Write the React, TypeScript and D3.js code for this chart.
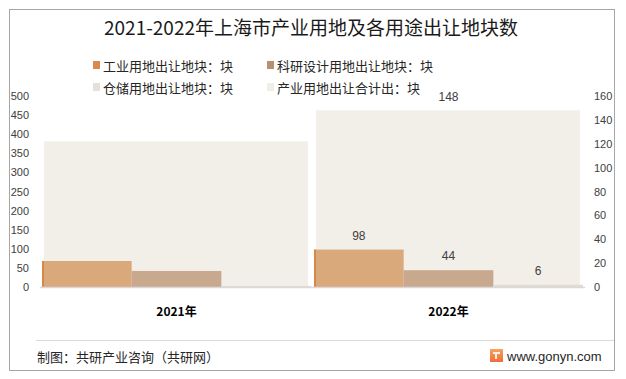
import React from "react";
import * as d3 from "d3";

const years = ["2021年", "2022年"];
const industrial = [68, 98];
const research = [42, 44];
const storage = [3, 6];
const totals = [122, 148];
const showLabels = [false, true];
const leftTicks = [0, 50, 100, 150, 200, 250, 300, 350, 400, 450, 500];
const rightTicks = [0, 20, 40, 60, 80, 100, 120, 140, 160];
const seriesNames = ["工业用地出让地块：块", "科研设计用地出让地块：块", "仓储用地出让地块：块", "产业用地出让合计出：块"];
const seriesKeys = ["工业", "科研", "仓储"];

const W = 626;
const H = 379;
const FONT = "'Noto Sans CJK SC', 'Noto Sans', sans-serif";
const NUMFONT = "'Liberation Sans', Arial, sans-serif";

const colors = {
  industrial: "#D9A87B",
  industrialEdge: "#D4884A",
  research: "#C8A98D",
  storage: "#E3DBD1",
  total: "#F2EFE9",
};
const legendColors = ["#D88B4C", "#B98F74", "#E6E0DA", "#F1EEE8"];

export default function App() {
  const x = d3.scaleBand<string>().domain(years).range([42, 583]).paddingInner(0.011).paddingOuter(0);
  const sub = d3.scaleBand<string>().domain(seriesKeys).range([0, x.bandwidth()]).padding(0);
  const yL = d3.scaleLinear().domain([0, 500]).range([287, 96]);
  const yR = d3.scaleLinear().domain([0, 160]).range([287, 96]);
  const seriesVals = [industrial, research, storage];
  const seriesFill = [colors.industrial, colors.research, colors.storage];

  return (
    <svg width={W} height={H} style={{ position: "absolute", left: 0, top: 0, background: "#fff" }}>
      <rect x={9.5} y={9.5} width={605} height={361} fill="#fff" stroke="#A6A6A6" strokeWidth={1} />
      <text x={311} y={35} textAnchor="middle" fontFamily={FONT} fontSize={19} fill="#1a1a1a">
        2021-2022年上海市产业用地及各用途出让地块数
      </text>

      {/* legend */}
      {seriesNames.map((n, i) => {
        const col = i % 2;
        const row = Math.floor(i / 2);
        const lx = col === 0 ? 93 : 267;
        const ly = row === 0 ? 65 : 87;
        return (
          <g key={n}>
            <rect x={lx} y={ly - 4} width={7} height={8} fill={legendColors[i]} />
            <text x={lx + 10} y={ly} dominantBaseline="central" fontFamily={FONT} fontSize={13} fill="#262626">
              {n}
            </text>
          </g>
        );
      })}

      {/* totals on right axis */}
      {years.map((yr, i) => (
        <rect key={"t" + yr} x={(x(yr) as number) + 2} y={yR(totals[i])} width={x.bandwidth() - 5} height={yR(0) - yR(totals[i])} fill={colors.total} />
      ))}

      {/* sub bars */}
      {years.map((yr, i) => (
        <g key={"g" + yr}>
          {seriesKeys.map((k, j) => {
            const v = seriesVals[j][i];
            const bx = (x(yr) as number) + (sub(k) as number);
            return (
              <g key={k}>
                <rect x={bx} y={yL(v)} width={sub.bandwidth()} height={yL(0) - yL(v)} fill={seriesFill[j]} />
                {j === 0 && <rect x={bx} y={yL(v)} width={2} height={yL(0) - yL(v)} fill={colors.industrialEdge} />}
                {showLabels[i] && (
                  <text x={bx + sub.bandwidth() / 2} y={yL(v) - 14} textAnchor="middle" dominantBaseline="central" fontFamily={NUMFONT} fontSize={12} fill="#404040">
                    {v}
                  </text>
                )}
              </g>
            );
          })}
          {showLabels[i] && (
            <text x={(x(yr) as number) + x.bandwidth() / 2} y={yR(totals[i]) - 13} textAnchor="middle" dominantBaseline="central" fontFamily={NUMFONT} fontSize={12} fill="#404040">
              {totals[i]}
            </text>
          )}
        </g>
      ))}

      {/* baseline */}
      <line x1={40} x2={585} y1={287.5} y2={287.5} stroke="#D9D9D9" strokeWidth={1.5} />

      {/* left axis */}
      {leftTicks.map((t) => (
        <text key={"l" + t} x={29} y={yL(t)} textAnchor="end" dominantBaseline="central" fontFamily={NUMFONT} fontSize={11} fill="#404040">
          {t}
        </text>
      ))}
      {/* right axis */}
      {rightTicks.map((t) => (
        <text key={"r" + t} x={594} y={yR(t)} textAnchor="start" dominantBaseline="central" fontFamily={NUMFONT} fontSize={11} fill="#404040">
          {t}
        </text>
      ))}

      {/* category labels */}
      {years.map((yr) => (
        <text key={"c" + yr} x={(x(yr) as number) + x.bandwidth() / 2} y={310} textAnchor="middle" dominantBaseline="central" fontFamily={FONT} fontSize={12} fontWeight="bold" fill="#000">
          {yr}
        </text>
      ))}

      {/* footer */}
      <line x1={36} x2={614} y1={340.5} y2={340.5} stroke="#D9D9D9" strokeWidth={1} />
      <text x={37} y={356} dominantBaseline="central" fontFamily={FONT} fontSize={13} fill="#262626">
        制图：共研产业咨询（共研网）
      </text>
      <defs>
        <linearGradient id="logoG" x1="0" y1="0" x2="0" y2="1">
          <stop offset="0%" stopColor="#F7A35C" />
          <stop offset="100%" stopColor="#F26B3A" />
        </linearGradient>
      </defs>
      <rect x={490} y={349} width={13} height={13} fill="url(#logoG)" />
      <path d="M493 352 h7 v2 h-3 v5 h-2 v-5 h-2 z" fill="#fff" opacity={0.85} />
      <text x={507} y={356} dominantBaseline="central" fontFamily={NUMFONT} fontSize={13} fill="#262626">
        www.gonyn.com
      </text>
    </svg>
  );
}
